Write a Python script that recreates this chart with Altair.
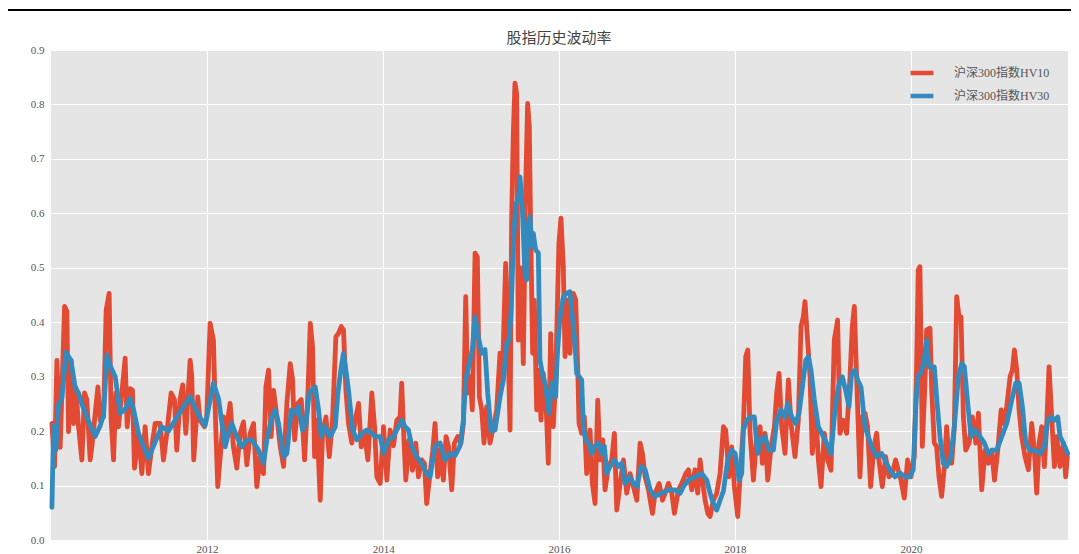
import altair as alt
import pandas as pd

# ---- data ----
series_names = ["沪深300指数HV10", "沪深300指数HV30"]
title_text = "股指历史波动率"

# decimal-year time stamps and values, HV10
t_hv10 = [
    2010.235, 2010.265, 2010.292, 2010.329, 2010.379, 2010.405, 2010.424, 2010.454, 2010.481, 2010.508,
    2010.538, 2010.576, 2010.606, 2010.632, 2010.670, 2010.689, 2010.758, 2010.784, 2010.822, 2010.852,
    2010.886, 2010.909, 2010.936, 2010.962, 2010.992, 2011.023, 2011.068, 2011.091, 2011.125, 2011.151,
    2011.174, 2011.220, 2011.258, 2011.295, 2011.333, 2011.371, 2011.409, 2011.466, 2011.504, 2011.542,
    2011.591, 2011.629, 2011.655, 2011.693, 2011.723, 2011.758, 2011.807, 2011.826, 2011.848, 2011.894,
    2011.920, 2011.970, 2011.996, 2012.034, 2012.072, 2012.098, 2012.121,
    2012.186, 2012.212, 2012.261, 2012.299, 2012.337, 2012.375, 2012.413, 2012.451, 2012.489, 2012.527,
    2012.564, 2012.602, 2012.640, 2012.667, 2012.697, 2012.727, 2012.754, 2012.792, 2012.830, 2012.868,
    2012.905, 2012.943, 2012.970, 2012.993, 2013.030, 2013.068, 2013.106, 2013.144, 2013.171, 2013.197,
    2013.220, 2013.246, 2013.284, 2013.311, 2013.349, 2013.387, 2013.424, 2013.462, 2013.493, 2013.523,
    2013.549, 2013.576, 2013.606, 2013.644, 2013.682, 2013.720, 2013.750, 2013.788, 2013.826, 2013.871,
    2013.902, 2013.928, 2013.966, 2014.004, 2014.042,
    2014.079, 2014.117, 2014.155, 2014.192, 2014.211, 2014.230, 2014.257, 2014.295, 2014.333, 2014.371,
    2014.401, 2014.439, 2014.469, 2014.495, 2014.533, 2014.564, 2014.590, 2014.620, 2014.647, 2014.685,
    2014.715, 2014.742, 2014.780, 2014.810, 2014.848, 2014.886, 2014.912, 2014.939, 2014.961, 2014.988,
    2015.014, 2015.045, 2015.071, 2015.094, 2015.121, 2015.147, 2015.177, 2015.215, 2015.253, 2015.291,
    2015.329, 2015.355, 2015.393, 2015.416, 2015.443, 2015.461, 2015.480, 2015.499, 2015.518, 2015.537,
    2015.567, 2015.594, 2015.621, 2015.643, 2015.662, 2015.677, 2015.700, 2015.719, 2015.746, 2015.772,
    2015.795, 2015.821, 2015.848, 2015.878, 2015.905, 2015.935, 2015.961,
    2015.999, 2016.022, 2016.049, 2016.068, 2016.098, 2016.124, 2016.162, 2016.189, 2016.212, 2016.227,
    2016.257, 2016.287, 2016.314, 2016.352, 2016.378, 2016.409, 2016.439, 2016.465, 2016.496, 2016.522,
    2016.560, 2016.598, 2016.628, 2016.655, 2016.693, 2016.731, 2016.768, 2016.806, 2016.844, 2016.882,
    2016.920, 2016.946, 2016.977, 2017.015, 2017.060, 2017.090, 2017.136, 2017.174, 2017.204, 2017.242,
    2017.280, 2017.310, 2017.356, 2017.393, 2017.439, 2017.469, 2017.507, 2017.545, 2017.575, 2017.602,
    2017.628, 2017.659, 2017.689, 2017.715, 2017.753, 2017.791, 2017.829, 2017.867, 2017.893,
    2017.931, 2017.962, 2017.992, 2018.030, 2018.056, 2018.094, 2018.121, 2018.144, 2018.170, 2018.208,
    2018.246, 2018.284, 2018.310, 2018.341, 2018.371, 2018.409, 2018.447, 2018.473, 2018.500, 2018.530,
    2018.568, 2018.606, 2018.636, 2018.681, 2018.719, 2018.750, 2018.776, 2018.795, 2018.814, 2018.852,
    2018.878, 2018.916, 2018.947, 2018.977, 2019.015, 2019.053, 2019.091, 2019.128, 2019.166, 2019.193,
    2019.231, 2019.269, 2019.307, 2019.333, 2019.356, 2019.382, 2019.420, 2019.447, 2019.477, 2019.507,
    2019.541, 2019.579, 2019.610, 2019.636, 2019.674, 2019.712, 2019.750, 2019.788, 2019.825,
    2019.886, 2019.924, 2019.962, 2020.000, 2020.038, 2020.064, 2020.083, 2020.102, 2020.129, 2020.159,
    2020.178, 2020.216, 2020.235, 2020.265, 2020.291, 2020.318, 2020.348, 2020.379, 2020.405, 2020.432,
    2020.462, 2020.492, 2020.519, 2020.545, 2020.568, 2020.595, 2020.621, 2020.659, 2020.697, 2020.735,
    2020.765, 2020.803, 2020.841, 2020.879, 2020.917, 2020.947, 2020.985, 2021.023, 2021.049, 2021.087,
    2021.125, 2021.151, 2021.174, 2021.201, 2021.227, 2021.257, 2021.295, 2021.333, 2021.371, 2021.401,
    2021.428, 2021.455, 2021.485, 2021.515, 2021.542, 2021.568, 2021.598, 2021.629, 2021.655, 2021.693,
    2021.731, 2021.757, 2021.776,
]
v_hv10 = [
    0.214, 0.135, 0.330, 0.170, 0.429, 0.420, 0.199, 0.330, 0.214, 0.280,
    0.208, 0.147, 0.270, 0.258, 0.147, 0.171, 0.281, 0.220, 0.226, 0.422,
    0.453, 0.220, 0.147, 0.270, 0.208, 0.258, 0.334, 0.208, 0.278, 0.275,
    0.132, 0.196, 0.122, 0.208, 0.122, 0.171, 0.214, 0.214, 0.147, 0.196,
    0.270, 0.258, 0.165, 0.258, 0.285, 0.196, 0.330, 0.300, 0.147, 0.263,
    0.220, 0.208, 0.226, 0.398, 0.367, 0.208, 0.098,
    0.226, 0.196, 0.251, 0.171, 0.132, 0.196, 0.217, 0.138, 0.196, 0.214,
    0.098, 0.153, 0.122, 0.281, 0.312, 0.190, 0.275, 0.226, 0.171, 0.135,
    0.251, 0.324, 0.294, 0.184, 0.251, 0.258, 0.147, 0.270, 0.398, 0.355,
    0.153, 0.220, 0.073, 0.196, 0.226, 0.153, 0.220, 0.373, 0.380, 0.392,
    0.386, 0.275, 0.214, 0.178, 0.220, 0.251, 0.171, 0.196, 0.147, 0.270,
    0.208, 0.116, 0.104, 0.208, 0.110,
    0.202, 0.173, 0.220, 0.226, 0.288, 0.208, 0.110, 0.184, 0.128, 0.178,
    0.116, 0.147, 0.141, 0.067, 0.122, 0.165, 0.214, 0.116, 0.165, 0.110,
    0.190, 0.173, 0.092, 0.178, 0.190, 0.178, 0.214, 0.447, 0.270, 0.300,
    0.239, 0.527, 0.520, 0.263, 0.239, 0.178, 0.245, 0.178, 0.208, 0.239,
    0.343, 0.294, 0.508, 0.390, 0.202, 0.588, 0.747, 0.839, 0.820, 0.367,
    0.500, 0.324, 0.649, 0.802, 0.760, 0.575, 0.343, 0.440, 0.239, 0.312,
    0.220, 0.306, 0.270, 0.141, 0.379, 0.208, 0.294,
    0.545, 0.591, 0.502, 0.337, 0.441, 0.343, 0.453, 0.441, 0.318, 0.214,
    0.196, 0.226, 0.122, 0.202, 0.104, 0.067, 0.257, 0.147, 0.184, 0.092,
    0.135, 0.147, 0.196, 0.055, 0.104, 0.147, 0.086, 0.122, 0.098, 0.073,
    0.178, 0.159, 0.116, 0.092, 0.049, 0.086, 0.104, 0.073, 0.086, 0.104,
    0.086, 0.049, 0.092, 0.104, 0.122, 0.129, 0.092, 0.129, 0.086, 0.147,
    0.110, 0.073, 0.049, 0.043, 0.073, 0.086, 0.122, 0.208, 0.202,
    0.116, 0.171, 0.098, 0.043, 0.116, 0.208, 0.337, 0.349, 0.196, 0.110,
    0.190, 0.208, 0.141, 0.196, 0.110, 0.171, 0.208, 0.270, 0.306, 0.208,
    0.159, 0.294, 0.214, 0.153, 0.220, 0.392, 0.410, 0.438, 0.392, 0.300,
    0.159, 0.239, 0.147, 0.098, 0.196, 0.147, 0.128, 0.367, 0.404, 0.196,
    0.220, 0.196, 0.300, 0.392, 0.429, 0.300, 0.116, 0.226, 0.233, 0.208,
    0.098, 0.171, 0.196, 0.147, 0.098, 0.153, 0.116, 0.122, 0.147,
    0.110, 0.077, 0.147, 0.116, 0.153, 0.318, 0.496, 0.502, 0.172, 0.288,
    0.386, 0.389, 0.276, 0.178, 0.172, 0.116, 0.080, 0.135, 0.208, 0.147,
    0.141, 0.208, 0.447, 0.410, 0.410, 0.226, 0.165, 0.178, 0.226, 0.178,
    0.233, 0.092, 0.165, 0.141, 0.165, 0.110, 0.165, 0.239, 0.214, 0.245,
    0.300, 0.312, 0.349, 0.312, 0.239, 0.190, 0.153, 0.129, 0.214, 0.165,
    0.086, 0.178, 0.208, 0.135, 0.214, 0.318, 0.226, 0.135, 0.190, 0.135,
    0.178, 0.116, 0.153,
]

# decimal-year time stamps and values, HV30
t_hv30 = [
    2010.235, 2010.254, 2010.280, 2010.311, 2010.348, 2010.394, 2010.451, 2010.500, 2010.538, 2010.576,
    2010.632, 2010.727, 2010.784, 2010.822, 2010.860, 2010.898, 2010.955, 2011.011, 2011.068, 2011.125,
    2011.163, 2011.220, 2011.295, 2011.333, 2011.409, 2011.485, 2011.561, 2011.636, 2011.712, 2011.807,
    2011.901, 2011.977, 2012.072, 2012.129,
    2012.205, 2012.243, 2012.280, 2012.337, 2012.394, 2012.451, 2012.508, 2012.583, 2012.640, 2012.678,
    2012.735, 2012.773, 2012.811, 2012.868, 2012.905, 2012.955, 2013.000, 2013.038, 2013.083, 2013.121,
    2013.159, 2013.227, 2013.265, 2013.296, 2013.341, 2013.398, 2013.455, 2013.485, 2013.523, 2013.549,
    2013.576, 2013.606, 2013.652, 2013.701, 2013.758, 2013.815, 2013.871, 2013.909, 2013.966, 2014.004,
    2014.061,
    2014.117, 2014.174, 2014.211, 2014.249, 2014.287, 2014.325, 2014.371, 2014.439, 2014.495, 2014.533,
    2014.590, 2014.647, 2014.704, 2014.761, 2014.817, 2014.874, 2014.912, 2014.939, 2014.988, 2015.014,
    2015.045, 2015.083, 2015.121, 2015.158, 2015.189, 2015.227, 2015.272, 2015.329, 2015.367, 2015.405,
    2015.431, 2015.454, 2015.480, 2015.507, 2015.537, 2015.556, 2015.583, 2015.613, 2015.632, 2015.651,
    2015.670, 2015.689, 2015.708, 2015.734, 2015.765, 2015.783, 2015.810, 2015.848, 2015.886, 2015.916,
    2015.961,
    2015.984, 2016.011, 2016.049, 2016.087, 2016.124, 2016.151, 2016.181, 2016.200, 2016.257, 2016.276,
    2016.303, 2016.340, 2016.371, 2016.401, 2016.446, 2016.484, 2016.515, 2016.541, 2016.579, 2016.628,
    2016.674, 2016.712, 2016.749, 2016.795, 2016.844, 2016.882, 2016.931, 2016.977, 2017.034, 2017.090,
    2017.166, 2017.242, 2017.318, 2017.375, 2017.412, 2017.469, 2017.545, 2017.621, 2017.678, 2017.715,
    2017.753, 2017.791, 2017.829, 2017.867,
    2017.916, 2017.962, 2018.000, 2018.045, 2018.075, 2018.094, 2018.132, 2018.181, 2018.219, 2018.257,
    2018.295, 2018.341, 2018.386, 2018.435, 2018.473, 2018.522, 2018.568, 2018.598, 2018.644, 2018.689,
    2018.727, 2018.765, 2018.803, 2018.833, 2018.863, 2018.901, 2018.947, 2019.003, 2019.041, 2019.091,
    2019.136, 2019.174, 2019.219, 2019.257, 2019.295, 2019.325, 2019.363, 2019.394, 2019.432, 2019.477,
    2019.515, 2019.553, 2019.610, 2019.666, 2019.704, 2019.761, 2019.818,
    2019.875, 2019.932, 2019.988, 2020.026, 2020.053, 2020.076, 2020.113, 2020.151, 2020.178, 2020.204,
    2020.265, 2020.291, 2020.329, 2020.367, 2020.405, 2020.454, 2020.492, 2020.538, 2020.576, 2020.606,
    2020.644, 2020.682, 2020.727, 2020.784, 2020.833, 2020.879, 2020.924, 2020.973, 2021.030, 2021.087,
    2021.144, 2021.189, 2021.227, 2021.265, 2021.303, 2021.352, 2021.409, 2021.466, 2021.515, 2021.553,
    2021.591, 2021.629, 2021.667, 2021.693, 2021.731, 2021.780,
]
v_hv30 = [
    0.060, 0.210, 0.165, 0.250, 0.260, 0.345, 0.330, 0.280, 0.270, 0.250,
    0.226, 0.190, 0.210, 0.230, 0.340, 0.320, 0.300, 0.233, 0.240, 0.260,
    0.240, 0.196, 0.165, 0.150, 0.180, 0.208, 0.200, 0.220, 0.240, 0.263,
    0.230, 0.210, 0.288, 0.260,
    0.171, 0.196, 0.214, 0.190, 0.171, 0.184, 0.184, 0.165, 0.141, 0.184,
    0.226, 0.239, 0.214, 0.153, 0.159, 0.239, 0.233, 0.245, 0.202, 0.214,
    0.270, 0.281, 0.239, 0.190, 0.208, 0.190, 0.208, 0.270, 0.318, 0.343,
    0.312, 0.275, 0.202, 0.184, 0.196, 0.202, 0.196, 0.190, 0.190, 0.159,
    0.184,
    0.190, 0.208, 0.220, 0.208, 0.202, 0.173, 0.155, 0.141, 0.122, 0.116,
    0.173, 0.178, 0.147, 0.159, 0.155, 0.173, 0.220, 0.294, 0.331, 0.350,
    0.410, 0.373, 0.343, 0.350, 0.270, 0.200, 0.202, 0.263, 0.294, 0.361,
    0.367, 0.416, 0.539, 0.618, 0.624, 0.667, 0.606, 0.490, 0.478, 0.582,
    0.594, 0.539, 0.563, 0.533, 0.527, 0.331, 0.306, 0.282, 0.233, 0.288,
    0.263,
    0.349, 0.410, 0.447, 0.453, 0.456, 0.410, 0.361, 0.306, 0.294, 0.208,
    0.184, 0.178, 0.159, 0.172, 0.178, 0.159, 0.172, 0.122, 0.135, 0.147,
    0.135, 0.141, 0.104, 0.116, 0.104, 0.098, 0.135, 0.129, 0.092, 0.080,
    0.086, 0.092, 0.092, 0.086, 0.098, 0.110, 0.116, 0.122, 0.110, 0.086,
    0.067, 0.055, 0.073, 0.090,
    0.147, 0.165, 0.159, 0.110, 0.122, 0.202, 0.220, 0.226, 0.226, 0.159,
    0.184, 0.190, 0.165, 0.165, 0.220, 0.239, 0.226, 0.251, 0.226, 0.214,
    0.233, 0.281, 0.330, 0.337, 0.312, 0.258, 0.208, 0.190, 0.178, 0.159,
    0.239, 0.281, 0.300, 0.275, 0.245, 0.306, 0.312, 0.294, 0.281, 0.208,
    0.190, 0.171, 0.153, 0.159, 0.147, 0.128, 0.116,
    0.123, 0.116, 0.116, 0.129, 0.239, 0.300, 0.306, 0.331, 0.367, 0.318,
    0.318, 0.263, 0.190, 0.141, 0.135, 0.153, 0.208, 0.300, 0.324, 0.318,
    0.251, 0.190, 0.202, 0.190, 0.178, 0.159, 0.165, 0.165, 0.190, 0.214,
    0.257, 0.288, 0.288, 0.245, 0.178, 0.165, 0.165, 0.159, 0.172, 0.220,
    0.226, 0.220, 0.226, 0.190, 0.178, 0.159,
]

y_ticks = [0.0, 0.1, 0.2, 0.3, 0.4, 0.5, 0.6, 0.7, 0.8, 0.9]
x_tick_years = [2012, 2014, 2016, 2018, 2020]
x_range_years = [2010.227, 2021.784]

RED = "#E24A33"
BLUE = "#348ABD"
SERIF = "Liberation Serif, Noto Sans CJK SC"


def to_ts(t):
    y = int(t)
    a = pd.Timestamp(year=y, month=1, day=1)
    b = pd.Timestamp(year=y + 1, month=1, day=1)
    return a + (b - a) * (t - y)


def to_dt(t):
    ts = to_ts(t)
    return alt.DateTime(year=ts.year, month=ts.month, date=ts.day)


df = pd.concat([
    pd.DataFrame({"date": [to_ts(t) for t in t_hv10], "hv": v_hv10, "series": series_names[0]}),
    pd.DataFrame({"date": [to_ts(t) for t in t_hv30], "hv": v_hv30, "series": series_names[1]}),
], ignore_index=True)

lines = alt.Chart(df).mark_line(strokeWidth=4.8, strokeJoin="round", strokeCap="round").encode(
    x=alt.X("date:T",
            scale=alt.Scale(domain=[to_dt(x_range_years[0]), to_dt(x_range_years[1])], nice=False),
            axis=alt.Axis(values=[alt.DateTime(year=y) for y in x_tick_years], format="%Y",
                          title=None, labelPadding=3)),
    y=alt.Y("hv:Q", scale=alt.Scale(domain=[0, 0.9], nice=False, zero=True),
            axis=alt.Axis(values=y_ticks, format=".1f", title=None, labelPadding=7)),
    color=alt.Color("series:N",
                    scale=alt.Scale(domain=series_names, range=[RED, BLUE]),
                    legend=alt.Legend(title=None, orient="none", legendX=857, legendY=9,
                                      symbolType="stroke", symbolSize=520, symbolStrokeWidth=4.5,
                                      labelFont=SERIF, labelFontSize=12, labelColor="#555555",
                                      labelOffset=18, rowPadding=0, padding=0)),
    order=alt.Order("series:N"),
)

title_mark = alt.Chart(pd.DataFrame({"k": [0]})).mark_text(
    font="Noto Sans CJK SC", fontSize=15, color="#444444", align="center", baseline="alphabetic"
).encode(text=alt.value(title_text), x=alt.value(508), y=alt.value(-7))

header_rule = alt.Chart(pd.DataFrame({"k": [0]})).mark_rule(color="black", strokeWidth=2).encode(
    x=alt.value(-45), x2=alt.value(1030), y=alt.value(-40)
)

chart = alt.layer(lines, title_mark, header_rule).properties(
    width=1017, height=490,
    autosize=alt.AutoSizeParams(type="none"),
    padding={"left": 43, "top": 42, "right": 3, "bottom": 14},
    background="white",
).configure_view(
    fill="#E5E5E5", stroke=None
).configure_axis(
    grid=True, gridColor="white", gridWidth=1, domain=False, ticks=False,
    labelColor="#555555", labelFont=SERIF, labelFontSize=11,
)

chart.save("out.html", embed_options={"renderer": "svg", "actions": False})
